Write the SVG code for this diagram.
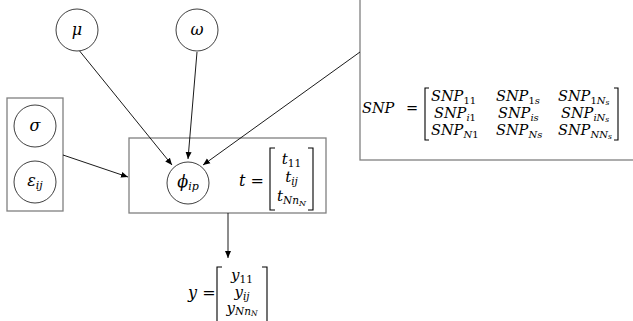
<svg xmlns="http://www.w3.org/2000/svg" width="633" height="321" viewBox="0 0 633 321">
<defs>
<style>
.box{fill:none;stroke:#808080;stroke-width:1.3}
.node{fill:#fff;stroke:#404040;stroke-width:1}
.edge{stroke:#000;stroke-width:0.9;fill:none;marker-end:url(#ah)}
.m{font-family:"DejaVu Serif","Liberation Serif",serif;font-style:italic;fill:#000}
.up{font-style:normal}
.br{fill:none;stroke:#000;stroke-width:1.1}
</style>
<marker id="ah" markerUnits="userSpaceOnUse" markerWidth="8" markerHeight="8" viewBox="0 0 8 8" refX="7" refY="4" orient="auto">
<path d="M0,1 L7,4 L0,7 Z" fill="#000"/>
</marker>
</defs>
<rect width="633" height="321" fill="#fff"/>

<g id="plate-left"><rect class="box" x="7" y="98" width="56" height="113"/></g>
<g id="plate-middle"><rect class="box" x="129" y="138" width="197" height="75"/></g>
<g id="plate-snp"><rect class="box" x="360" y="-5" width="290" height="165"/></g>

<g id="connectors">
<line class="edge" x1="78" y1="49" x2="172" y2="165"/>
<line class="edge" x1="197" y1="52" x2="188" y2="159"/>
<line class="edge" x1="360" y1="52" x2="203" y2="165"/>
<line class="edge" x1="63" y1="155" x2="128" y2="177"/>
<line class="edge" x1="228" y1="213" x2="228" y2="258"/>
</g>

<g id="node-mu"><circle class="node" cx="77" cy="30" r="21"/><text class="m" x="77" y="35" font-size="16" text-anchor="middle">μ</text></g>
<g id="node-omega"><circle class="node" cx="197" cy="30" r="21"/><text class="m" x="197" y="35" font-size="16" text-anchor="middle">ω</text></g>
<g id="node-sigma"><circle class="node" cx="35" cy="126" r="21"/><text class="m" x="35" y="131" font-size="16" text-anchor="middle">σ</text></g>
<g id="node-eps"><circle class="node" cx="35" cy="182" r="21"/><text class="m" x="35" y="186" font-size="16" text-anchor="middle">ε<tspan font-size="11" dy="3">ij</tspan></text></g>
<g id="node-phi"><circle class="node" cx="188" cy="183" r="21"/><text class="m" x="188" y="187" font-size="16" text-anchor="middle">ϕ<tspan font-size="11" dy="3">ip</tspan></text></g>

<g id="matrix-t">
<text class="m" x="239" y="186" font-size="16">t <tspan class="up">=</tspan></text>
<path class="br" d="M275,148 H270 V210 H275 M308,148 H313 V210 H308"/>
<text class="m" x="291.5" y="164" font-size="15" text-anchor="middle">t<tspan class="up" font-size="10.5" dy="3">11</tspan></text>
<text class="m" x="291.5" y="182" font-size="15" text-anchor="middle">t<tspan font-size="10.5" dy="3">ij</tspan></text>
<text class="m" x="291.5" y="201" font-size="15" text-anchor="middle">t<tspan font-size="10.5" dy="3">Nn<tspan font-size="8" dy="2">N</tspan></tspan></text>
</g>

<g id="matrix-snp">
<text class="m" x="362" y="113" font-size="14.5">SNP</text>
<text class="m up" x="406" y="113" font-size="14.5">=</text>
<path class="br" d="M429,88 H425 V140 H429 M614,88 H618 V140 H614"/>
<text class="m" x="431" y="101" font-size="14.5">SNP<tspan class="up" font-size="10" dy="2.5">11</tspan></text>
<text class="m" x="496" y="101" font-size="14.5">SNP<tspan font-size="10" dy="2.5"><tspan class="up">1</tspan>s</tspan></text>
<text class="m" x="558" y="101" font-size="14.5">SNP<tspan font-size="10" dy="2.5"><tspan class="up">1</tspan>N<tspan font-size="7.5" dy="1.5">s</tspan></tspan></text>
<text class="m" x="434" y="118" font-size="14.5">SNP<tspan font-size="10" dy="2.5">i<tspan class="up">1</tspan></tspan></text>
<text class="m" x="498" y="118" font-size="14.5">SNP<tspan font-size="10" dy="2.5">is</tspan></text>
<text class="m" x="561" y="118" font-size="14.5">SNP<tspan font-size="10" dy="2.5">iN<tspan font-size="7.5" dy="1.5">s</tspan></tspan></text>
<text class="m" x="431" y="135" font-size="14.5">SNP<tspan font-size="10" dy="2.5">N<tspan class="up">1</tspan></tspan></text>
<text class="m" x="496" y="135" font-size="14.5">SNP<tspan font-size="10" dy="2.5">Ns</tspan></text>
<text class="m" x="558" y="135" font-size="14.5">SNP<tspan font-size="10" dy="2.5">NN<tspan font-size="7.5" dy="1.5">s</tspan></tspan></text>
</g>

<g id="matrix-y">
<text class="m" x="188" y="298" font-size="16">y <tspan class="up">=</tspan></text>
<path class="br" d="M222,267 H217 V321 M262,267 H267 V321"/>
<text class="m" x="242" y="280" font-size="15" text-anchor="middle">y<tspan class="up" font-size="10.5" dy="3">11</tspan></text>
<text class="m" x="242" y="297" font-size="15" text-anchor="middle">y<tspan font-size="10.5" dy="3">ij</tspan></text>
<text class="m" x="242" y="313" font-size="15" text-anchor="middle">y<tspan font-size="10.5" dy="2">Nn<tspan font-size="7.5" dy="1">N</tspan></tspan></text>
</g>
</svg>
